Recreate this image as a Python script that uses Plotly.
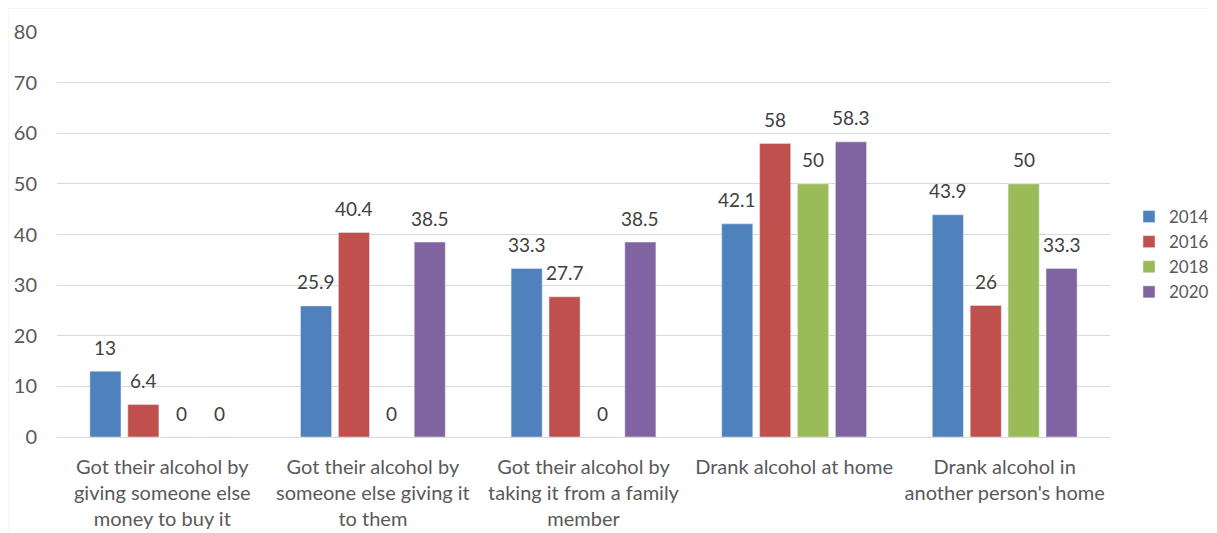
import plotly.graph_objects as go

categories = [
    "Got their alcohol by<br>giving someone else<br>money to buy it",
    "Got their alcohol by<br>someone else giving it<br>to them",
    "Got their alcohol by<br>taking it from a family<br>member",
    "Drank alcohol at home",
    "Drank alcohol in<br>another person's home",
]
series_names = ["2014", "2016", "2018", "2020"]
v2014 = [13, 25.9, 33.3, 42.1, 43.9]
v2016 = [6.4, 40.4, 27.7, 58, 26]
v2018 = [0, 0, 0, 50, 50]
v2020 = [0, 38.5, 38.5, 58.3, 33.3]
values = [v2014, v2016, v2018, v2020]
colors = ["#4F81BD", "#C0504D", "#9BBB59", "#8064A2"]

# page has 8px body margin
W, H = 1209, 525
ml, mr, mt, mb = 49, 107, 24, 96
pw, ph = W - ml - mr, H - mt - mb
FONT = "Lato"
BARGAP = 0.28

fig = go.Figure()
for name, vals, c in zip(series_names, values, colors):
    fig.add_trace(go.Bar(x=categories, y=vals, name=name, marker_color=c))

# data labels, placed above each bar of the group
slot_px = (1 - BARGAP) / len(series_names) * pw / len(categories)
annotations = []
for i, vals in enumerate(values):
    off = (i - (len(series_names) - 1) / 2) * slot_px
    for cat, v in zip(categories, vals):
        annotations.append(dict(
            x=cat, y=v, xref="x", yref="y", text=f"{v:g}", showarrow=False,
            xshift=off, yshift=24, yanchor="middle", xanchor="center",
            font=dict(size=19, color="#404040", family=FONT)))

def px_x(p):
    return (p - ml) / pw

def px_y(p):
    return 1 - (p - mt) / ph

fig.update_layout(
    width=W, height=H,
    margin=dict(l=ml, r=mr, t=mt, b=mb, autoexpand=False),
    paper_bgcolor="white", plot_bgcolor="white",
    barmode="group", bargap=BARGAP, bargroupgap=0.18,
    font=dict(family=FONT, color="#595959", size=19),
    showlegend=True,
    legend=dict(xref="container", yref="container", x=1121 / W, y=1 - 246.5 / H,
                yanchor="middle", xanchor="left",
                font=dict(size=17, color="#595959", family=FONT), itemwidth=30,
                tracegroupgap=0, bgcolor="rgba(0,0,0,0)"),
    yaxis=dict(range=[0, 80], dtick=10, showgrid=True, gridcolor="#D9D9D9",
               gridwidth=1, zeroline=True, zerolinecolor="#D9D9D9",
               zerolinewidth=1, showline=False, ticks="",
               tickfont=dict(size=20, color="#595959", family=FONT), ticklabelstandoff=19),
    xaxis=dict(showgrid=False, showline=False, ticks="",
               tickfont=dict(size=20, color="#595959", family=FONT), tickangle=0,
               ticklabelstandoff=16),
    annotations=annotations,
    shapes=[dict(type="rect", xref="paper", yref="paper",
                 x0=px_x(-0.5), x1=px_x(1300), y0=px_y(700), y1=px_y(-0.5),
                 line=dict(color="#D9D9D9", width=1.5), layer="below")],
)

fig.write_html("out.html")
